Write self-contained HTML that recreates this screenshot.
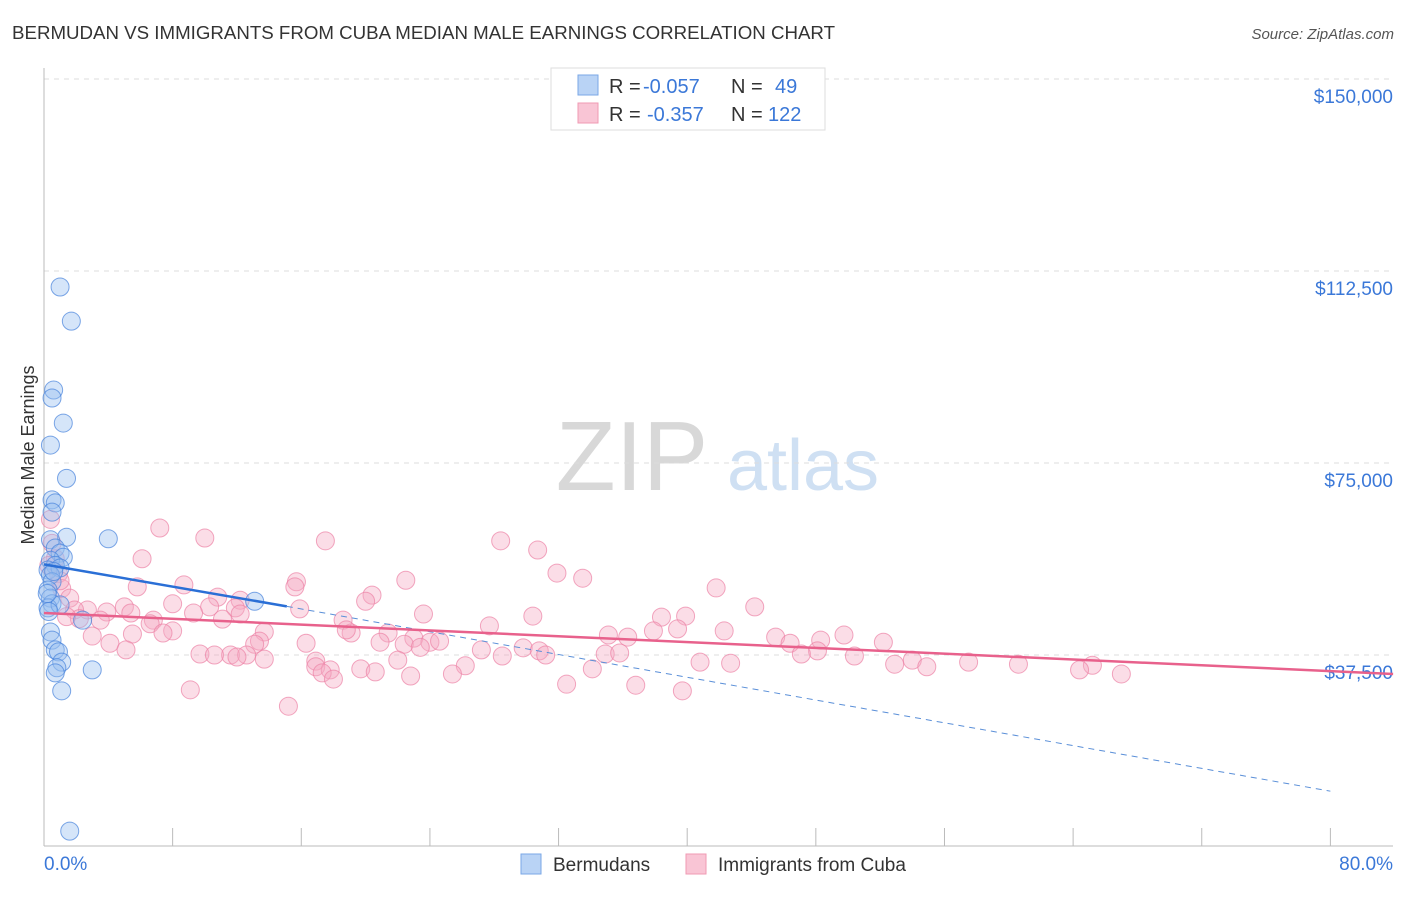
<!DOCTYPE html>
<html><head><meta charset="utf-8"><style>
body{margin:0;background:#fff;font-family:"Liberation Sans",sans-serif}
svg text{font-family:"Liberation Sans",sans-serif}
</style></head><body>
<svg id="chart" width="1406" height="892">
<text x="12" y="39" font-size="18" fill="#333" textLength="823" lengthAdjust="spacingAndGlyphs">BERMUDAN VS IMMIGRANTS FROM CUBA MEDIAN MALE EARNINGS CORRELATION CHART</text>
<text x="1394" y="39" font-size="15" fill="#555" font-style="italic" text-anchor="end">Source: ZipAtlas.com</text>
<g>
<text x="632" y="490" font-size="98" fill="#d8d8d8" font-family="Liberation Serif" text-anchor="middle">ZIP</text>
<text x="803" y="490" font-size="72" fill="#cfe0f3" text-anchor="middle">atlas</text></g>
<g id="grid"></g><g id="axes"></g><g id="marks"></g>
<text transform="translate(34,455) rotate(-90)" font-size="18" fill="#333" text-anchor="middle">Median Male Earnings</text>
<g>
<rect x="551" y="68" width="274" height="62" fill="#fff" stroke="#ddd"/>
<rect x="578" y="75" width="20" height="20" fill="#b9d3f5" stroke="#7aa7e6"/>
<rect x="578" y="103" width="20" height="20" fill="#f9c5d5" stroke="#f09ab3"/>
<text x="609" y="93" font-size="20" fill="#333">R = <tspan fill="#3b78d8" x="643">-0.057</tspan><tspan x="731">N = </tspan><tspan x="775" fill="#3b78d8">49</tspan></text>
<text x="609" y="121" font-size="20" fill="#333">R = <tspan fill="#3b78d8" x="647">-0.357</tspan><tspan x="731">N = </tspan><tspan x="768" fill="#3b78d8">122</tspan></text>
</g>
<g>
<rect x="521" y="854" width="20" height="20" fill="#b9d3f5" stroke="#7aa7e6"/>
<text x="553" y="871" font-size="19" fill="#333">Bermudans</text>
<rect x="686" y="854" width="20" height="20" fill="#f9c5d5" stroke="#f09ab3"/>
<text x="718" y="871" font-size="19" fill="#333">Immigrants from Cuba</text>
</g>
</svg>
<script>
const yTicks=[37500,75000,112500,150000];
const yTickLabels=["$37,500","$75,000","$112,500","$150,000"];
const xTickLabels=["0.0%","80.0%"];
const blueX=[1.0,1.7,0.6,0.5,1.2,0.4,1.4,0.5,0.7,0.5,1.4,4.0,0.4,0.7,1.0,1.2,0.4,0.7,0.25,1.0,0.4,0.5,0.25,0.4,0.5,0.25,1.0,13.1,2.4,0.4,0.5,0.7,0.9,1.1,0.8,0.7,3.0,1.1,1.6,0.3,0.6,0.2];
const blueY=[109375,102700,89250,87700,82800,78500,72000,67800,67200,65400,60500,60200,60000,58400,57400,56600,56000,55000,54100,54500,53100,51800,50200,48600,47500,46700,47300,48000,44300,42000,40400,38500,38100,36100,35000,34000,34600,30500,3100,46000,53800,49500];
const pinkX=[7.2,10.0,17.5,28.4,30.7,6.1,31.9,22.5,33.5,8.7,15.7,15.6,5.8,41.8,20.4,10.8,12.2,20.0,8.0,5.0,10.3,11.9,44.2,15.9,2.7,3.9,5.4,9.3,23.6,30.4,12.2,39.9,38.4,6.8,3.5,11.1,18.6,6.6,27.7,39.4,37.9,8.0,13.7,42.3,7.4,19.1,21.4,18.8,5.5,3.0,49.75,35.1,36.3,23.0,48.3,45.5,52.2,13.4,13.1,16.3,24.0,24.6,4.1,20.9,46.4,22.4,23.4,29.8,27.2,30.8,5.1,48.1,31.2,9.7,11.6,10.6,12.6,34.9,35.8,47.1,50.4,28.5,12.0,13.7,16.9,22.0,54.0,40.8,42.7,52.9,57.5,60.6,54.9,65.2,64.4,26.2,16.9,17.8,19.7,20.6,17.3,34.1,25.4,22.8,18.0,67.0,32.5,36.8,9.1,39.7,15.2,0.4,0.5,0.7,0.9,1.1,1.6,1.9,1.0,2.2,0.3,1.4];
const pinkY=[62300,60350,59800,59800,58000,56300,53500,52100,52500,51200,51800,50800,50800,50600,49200,48800,48200,48000,47500,46900,46900,46700,46900,46500,46300,45900,45700,45700,45500,45100,45500,45100,44900,44300,44300,44500,44300,43600,43200,42600,42200,42200,42000,42200,41800,41800,41800,42400,41600,41200,41400,41400,41000,40800,40400,41000,40000,40200,39600,39800,40000,40200,39800,40000,39800,39600,39000,38900,38500,38300,38500,38300,37500,37700,37500,37500,37500,37700,37900,37700,37300,37300,37100,36700,36300,36500,36500,36100,35900,35700,36100,35700,35200,35500,34600,35400,35200,34600,34800,34200,34000,34800,33800,33400,32800,33800,31800,31600,30700,30500,27500,64000,59300,56300,53400,50500,48600,46300,52000,44600,55000,45000];
const blueTrendX=[0,15.1,80];
const blueTrendY=[55200,47000,10900];
const pinkTrendX=[0,83.9];
const pinkTrendY=[45700,33800];
const NS="http://www.w3.org/2000/svg";
const X=v=>44+v*16.08, Y=v=>847-v*192/37500;
function mk(t,a,p){const e=document.createElementNS(NS,t);for(const k in a)e.setAttribute(k,a[k]);p.appendChild(e);return e;}
const grid=document.getElementById('grid'),axes=document.getElementById('axes'),marks=document.getElementById('marks');
yTicks.forEach((t,i)=>{
 const l=mk('line',{x1:44,x2:1393,y1:Y(t),y2:Y(t),stroke:'#ddd','stroke-dasharray':'5,5'},grid);
 
 
 const tx=mk('text',{x:1393,y:Y(t)+24,'font-size':19,fill:'#3b78d8','text-anchor':'end'},axes);
 tx.textContent=yTickLabels[i];
 
 
});
const ax=mk('line',{x1:44,x2:44,y1:68,y2:846,stroke:'#bbb'},axes);


const bx=mk('line',{x1:44,x2:1393,y1:846,y2:846,stroke:'#bbb'},axes);


for(let i=0;i<=10;i++){
 const t=mk('line',{x1:X(i*8),x2:X(i*8),y1:828,y2:846,stroke:'#bbb'},axes);
 
 
}
[[0,'start',44],[80,'end',1393]].forEach((d,i)=>{
 const t=mk('text',{x:d[2],y:870,'font-size':19,fill:'#3b78d8','text-anchor':d[1]},axes);
 t.textContent=xTickLabels[i];
 
 
});
pinkX.forEach((v,i)=>{
 const c=mk('circle',{cx:X(v),cy:Y(pinkY[i]),r:9,fill:'rgba(246,170,195,0.4)',stroke:'rgba(236,130,165,0.7)','stroke-width':1},marks);
 
 
});
blueX.forEach((v,i)=>{
 const c=mk('circle',{cx:X(v),cy:Y(blueY[i]),r:9,fill:'rgba(150,190,240,0.4)',stroke:'rgba(70,130,220,0.7)','stroke-width':1},marks);
 
 
});
const bl=mk('line',{x1:X(blueTrendX[0]),y1:Y(blueTrendY[0]),x2:X(blueTrendX[1]),y2:Y(blueTrendY[1]),stroke:'#2a6fd6','stroke-width':2.5},marks);


const bd=mk('line',{x1:X(blueTrendX[1]),y1:Y(blueTrendY[1]),x2:X(blueTrendX[2]),y2:Y(blueTrendY[2]),stroke:'#5a8fd8','stroke-width':1,'stroke-dasharray':'6,5'},marks);


const pl=mk('line',{x1:X(pinkTrendX[0]),y1:Y(pinkTrendY[0]),x2:X(pinkTrendX[1]),y2:Y(pinkTrendY[1]),stroke:'#e8618c','stroke-width':2.5},marks);


</script>
</body></html>
